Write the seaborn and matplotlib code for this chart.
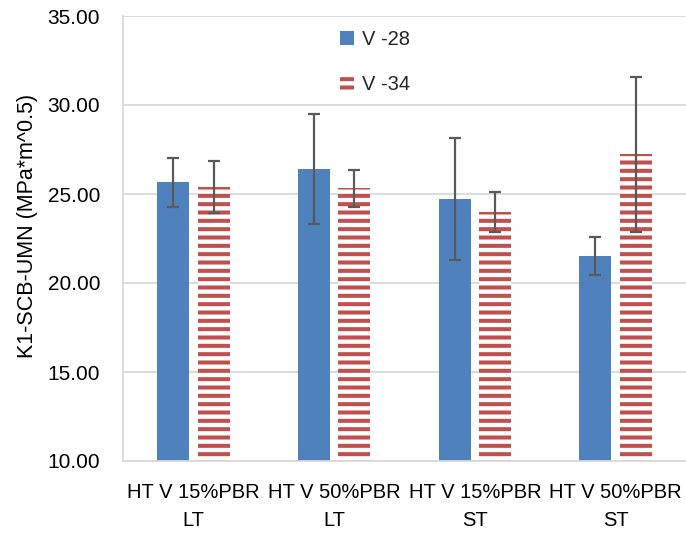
import matplotlib
matplotlib.use("Agg")
import matplotlib.pyplot as plt
import seaborn as sns
import pandas as pd

# Mixture labels and series
categories = ["HT V 15%PBR\nLT", "HT V 50%PBR\nLT", "HT V 15%PBR\nST", "HT V 50%PBR\nST"]
series = ["V -28", "V -34"]
v28_mean = [25.65, 26.40, 24.70, 21.50]
v28_err = [1.40, 3.10, 3.43, 1.07]
v34_mean = [25.41, 25.32, 23.97, 27.23]
v34_err = [1.47, 1.03, 1.12, 4.37]

BLUE = "#4F81BD"
RED = "#C0504D"
GRID = "#D9D9D9"
ERR = "#595959"

df = pd.DataFrame({
    "mix": categories * 2,
    "series": [series[0]] * 4 + [series[1]] * 4,
    "value": v28_mean + v34_mean,
    "err": v28_err + v34_err,
})

sns.set_theme(style="white")
plt.rcParams["font.family"] = ["Liberation Sans", "DejaVu Sans"]
plt.rcParams["hatch.linewidth"] = 2.9

fig = plt.figure(figsize=(6.86, 5.34), dpi=100)
ax = fig.add_axes([123 / 686, 1 - 461 / 534, 563 / 686, 445 / 534])

sns.barplot(data=df, x="mix", y="value", hue="series", order=categories,
            hue_order=series, palette=[BLUE, RED], width=0.574, gap=0.21,
            errorbar=None, saturation=1, ax=ax, legend=False)

# Style the second series as horizontally striped bars
for p in ax.containers[1]:
    p.set_facecolor("white")
    p.set_edgecolor(RED)
    p.set_linewidth(0)
    p.set_hatch("--")
for p in ax.containers[0]:
    p.set_linewidth(0)

# Error bars centred on each drawn bar
for cont, errs in zip(ax.containers[:2], [v28_err, v34_err]):
    xs = [p.get_x() + p.get_width() / 2 for p in cont]
    ys = [p.get_height() for p in cont]
    ax.errorbar(xs, ys, yerr=errs, fmt="none", ecolor=ERR, elinewidth=1.6,
                capsize=4.3, capthick=1.6, zorder=5)

ax.set_ylim(10, 35)
yticks = [10, 15, 20, 25, 30, 35]
ax.set_yticks(yticks)
ax.set_yticklabels([f"{t:.2f}" for t in yticks])
ax.set_xlim(-0.5, 3.5)
ax.yaxis.grid(True, color=GRID, linewidth=1.3)
ax.set_axisbelow(True)
ax.tick_params(axis="both", length=0, colors="black")
ax.tick_params(axis="y", labelsize=15, pad=16.5)
ax.tick_params(axis="x", labelsize=14.5, pad=16)
for lbl in ax.get_xticklabels():
    lbl.set_linespacing(1.58)
ax.set_xlabel("")
ax.set_ylabel("K1-SCB-UMN (MPa*m^0.5)", fontsize=15.5, color="black")
ax.yaxis.set_label_coords(-0.151, 0.528)

for side in ["top", "right"]:
    ax.spines[side].set_visible(False)
for side in ["left", "bottom"]:
    ax.spines[side].set_color(GRID)
    ax.spines[side].set_linewidth(1.3)

handles = [ax.containers[0][0], ax.containers[1][0]]
ax.legend(handles, series, loc="upper left", bbox_to_anchor=(0.385, 0.969),
          frameon=False, fontsize=14.5, handlelength=0.7, handleheight=0.7,
          handletextpad=0.4, labelspacing=1.3, borderpad=0, borderaxespad=0)

fig.savefig("out.png", dpi=100)
